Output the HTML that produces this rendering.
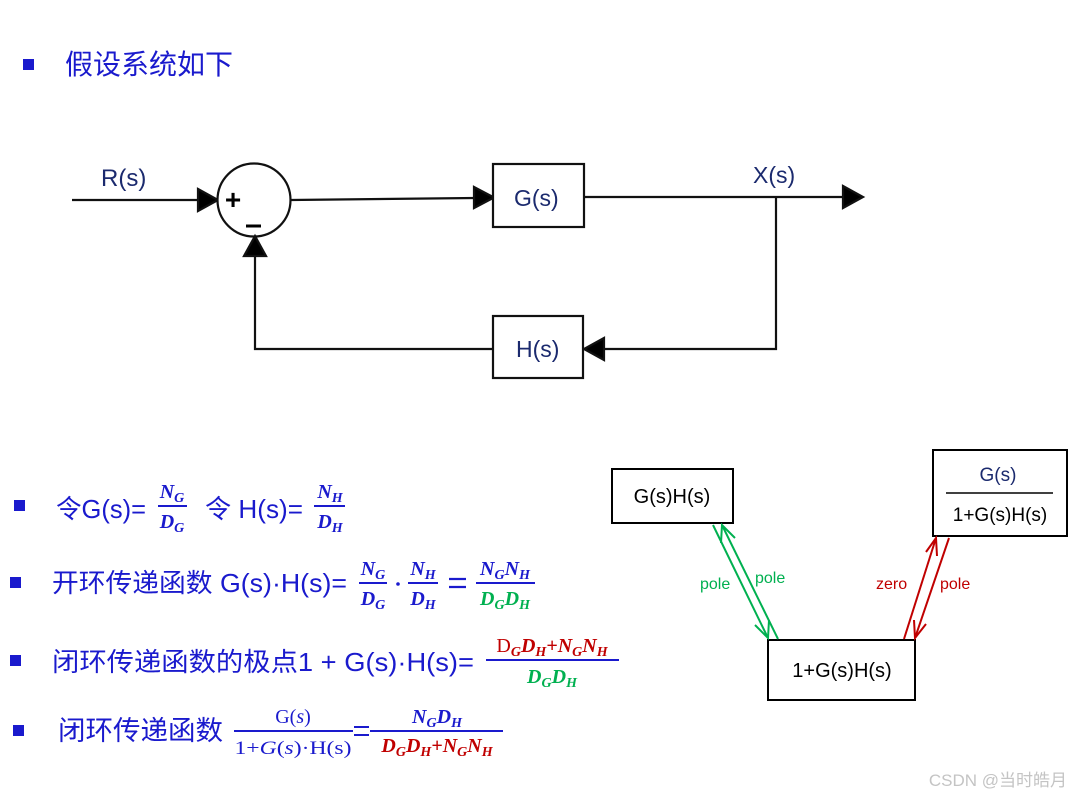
<!DOCTYPE html>
<html><head><meta charset="utf-8"><style>
html,body{margin:0;padding:0;background:#fff;width:1071px;height:797px;overflow:hidden}
svg{display:block}
.cj{font-family:"Liberation Sans","Noto Sans CJK SC",sans-serif;fill:#1a1acd}
.m{font-family:"Liberation Serif","DejaVu Serif",serif;font-style:italic;font-weight:bold;font-size:20px}
.lab{font-family:"Liberation Sans",sans-serif;fill:#1b2a6e;font-size:22px}
.bk{font-family:"Liberation Sans",sans-serif;fill:#000;font-size:20px}
</style></head><body>
<svg width="1071" height="797" viewBox="0 0 1071 797">
<!-- title -->
<rect x="23" y="59" width="11" height="11" fill="#1a1acd"/>
<text x="65" y="74" class="cj" font-size="28" textLength="168" lengthAdjust="spacingAndGlyphs">假设系统如下</text>

<!-- block diagram -->
<g stroke="#111" stroke-width="2.2" fill="none">
<line x1="72" y1="200" x2="200" y2="200"/>
<path d="M198,189 L218,200 L198,211 z" fill="#000"/>
<circle cx="254" cy="200" r="36.5" fill="#fff"/>
<line x1="291" y1="200" x2="475" y2="198"/>
<path d="M474,187 L494,197.5 L474,208 z" fill="#000"/>
<rect x="493" y="164" width="91" height="63" fill="#fff"/>
<line x1="584" y1="197" x2="845" y2="197"/>
<path d="M843,186 L863,197 L843,208 z" fill="#000"/>
<polyline points="776,197 776,349 600,349"/>
<path d="M604,338 L584,349 L604,360 z" fill="#000"/>
<rect x="493" y="316" width="90" height="62" fill="#fff"/>
<polyline points="493,349 255,349 255,254"/>
<path d="M244,256 L255,236 L266,256 z" fill="#000"/>
</g>
<text x="233" y="209" font-family="Liberation Sans" font-size="28" font-weight="bold" fill="#000" text-anchor="middle">+</text>
<line x1="246" y1="226" x2="261" y2="226" stroke="#000" stroke-width="3"/>
<text x="101" y="186" class="lab" style="font-size:24px">R(s)</text>
<text x="514" y="206" class="lab" style="font-size:23px">G(s)</text>
<text x="753" y="183" class="lab" style="font-size:23px">X(s)</text>
<text x="516" y="357" class="lab" style="font-size:23px">H(s)</text>

<!-- line 1 -->
<rect x="14" y="500" width="11" height="11" fill="#1a1acd"/>
<text x="56" y="518" class="cj" font-size="26" textLength="90" lengthAdjust="spacingAndGlyphs">令G(s)=</text>
<text x="172" y="498" class="m" fill="#1a1acd" text-anchor="middle">N<tspan font-size="14" dy="4">G</tspan></text>
<line x1="158" y1="506" x2="187" y2="506" stroke="#1a1acd" stroke-width="2"/>
<text x="172" y="528" class="m" fill="#1a1acd" text-anchor="middle">D<tspan font-size="14" dy="4">G</tspan></text>
<text x="205" y="518" class="cj" font-size="26" textLength="98" lengthAdjust="spacingAndGlyphs">令 H(s)=</text>
<text x="330" y="498" class="m" fill="#1a1acd" text-anchor="middle">N<tspan font-size="14" dy="4">H</tspan></text>
<line x1="314" y1="506" x2="345" y2="506" stroke="#1a1acd" stroke-width="2"/>
<text x="330" y="528" class="m" fill="#1a1acd" text-anchor="middle">D<tspan font-size="14" dy="4">H</tspan></text>

<!-- line 2 -->
<rect x="10" y="577" width="11" height="11" fill="#1a1acd"/>
<text x="52" y="592" class="cj" font-size="26" textLength="295" lengthAdjust="spacingAndGlyphs">开环传递函数 G(s)·H(s)=</text>
<text x="373" y="575" class="m" fill="#1a1acd" text-anchor="middle">N<tspan font-size="14" dy="4">G</tspan></text>
<line x1="359" y1="583" x2="387" y2="583" stroke="#1a1acd" stroke-width="2"/>
<text x="373" y="605" class="m" fill="#1a1acd" text-anchor="middle">D<tspan font-size="14" dy="4">G</tspan></text>
<circle cx="398" cy="584" r="1.8" fill="#1a1acd"/>
<text x="423" y="575" class="m" fill="#1a1acd" text-anchor="middle">N<tspan font-size="14" dy="4">H</tspan></text>
<line x1="408" y1="583" x2="438" y2="583" stroke="#1a1acd" stroke-width="2"/>
<text x="423" y="605" class="m" fill="#1a1acd" text-anchor="middle">D<tspan font-size="14" dy="4">H</tspan></text>
<line x1="449" y1="579" x2="466" y2="579" stroke="#1a1acd" stroke-width="2.2"/>
<line x1="449" y1="587" x2="466" y2="587" stroke="#1a1acd" stroke-width="2.2"/>
<text x="505" y="575" class="m" fill="#1a1acd" text-anchor="middle">N<tspan font-size="14" dy="4">G</tspan><tspan dy="-4">N</tspan><tspan font-size="14" dy="4">H</tspan></text>
<line x1="476" y1="583" x2="535" y2="583" stroke="#1a1acd" stroke-width="2"/>
<text x="505" y="605" class="m" fill="#00b050" text-anchor="middle">D<tspan font-size="14" dy="4">G</tspan><tspan dy="-4">D</tspan><tspan font-size="14" dy="4">H</tspan></text>

<!-- line 3 -->
<rect x="10" y="655" width="11" height="11" fill="#1a1acd"/>
<text x="52" y="671" class="cj" font-size="26" textLength="422" lengthAdjust="spacingAndGlyphs">闭环传递函数的极点1 + G(s)·H(s)=</text>
<text x="552" y="652" class="m" fill="#c00000" text-anchor="middle"><tspan font-style="normal" font-weight="normal">D</tspan><tspan font-size="14" dy="4">G</tspan><tspan dy="-4">D</tspan><tspan font-size="14" dy="4">H</tspan><tspan dy="-4">+N</tspan><tspan font-size="14" dy="4">G</tspan><tspan dy="-4">N</tspan><tspan font-size="14" dy="4">H</tspan></text>
<line x1="486" y1="660" x2="619" y2="660" stroke="#1a1acd" stroke-width="2"/>
<text x="552" y="683" class="m" fill="#00b050" text-anchor="middle">D<tspan font-size="14" dy="4">G</tspan><tspan dy="-4">D</tspan><tspan font-size="14" dy="4">H</tspan></text>

<!-- line 4 -->
<rect x="13" y="725" width="11" height="11" fill="#1a1acd"/>
<text x="58" y="740" class="cj" font-size="27" textLength="165" lengthAdjust="spacingAndGlyphs">闭环传递函数</text>
<text x="293" y="723" font-family="Liberation Serif,serif" font-size="20" fill="#1a1acd" text-anchor="middle">G(<tspan font-style="italic">s</tspan>)</text>
<line x1="234" y1="731" x2="353" y2="731" stroke="#1a1acd" stroke-width="2"/>
<text x="293" y="754" font-family="Liberation Serif,serif" font-size="19" fill="#1a1acd" text-anchor="middle" textLength="117" lengthAdjust="spacingAndGlyphs">1+<tspan font-style="italic">G</tspan>(<tspan font-style="italic">s</tspan>)·H(s)</text>
<line x1="354" y1="727" x2="369" y2="727" stroke="#1a1acd" stroke-width="2"/>
<line x1="354" y1="735" x2="369" y2="735" stroke="#1a1acd" stroke-width="2"/>
<text x="437" y="723" class="m" fill="#1a1acd" text-anchor="middle">N<tspan font-size="14" dy="4">G</tspan><tspan dy="-4">D</tspan><tspan font-size="14" dy="4">H</tspan></text>
<line x1="370" y1="731" x2="503" y2="731" stroke="#1a1acd" stroke-width="2"/>
<text x="437" y="752" class="m" fill="#c00000" text-anchor="middle">D<tspan font-size="14" dy="4">G</tspan><tspan dy="-4">D</tspan><tspan font-size="14" dy="4">H</tspan><tspan dy="-4">+N</tspan><tspan font-size="14" dy="4">G</tspan><tspan dy="-4">N</tspan><tspan font-size="14" dy="4">H</tspan></text>

<!-- right diagram -->
<g stroke="#000" stroke-width="2" fill="#fff">
<rect x="612" y="469" width="121" height="54"/>
<rect x="768" y="640" width="147" height="60"/>
<rect x="933" y="450" width="134" height="86"/>
</g>
<line x1="946" y1="493" x2="1053" y2="493" stroke="#000" stroke-width="1.5"/>
<text x="672" y="503" class="bk" text-anchor="middle">G(s)H(s)</text>
<text x="842" y="677" class="bk" text-anchor="middle">1+G(s)H(s)</text>
<text x="998" y="481" class="lab" style="font-size:19px" text-anchor="middle">G(s)</text>
<text x="1000" y="521" class="bk" style="font-size:19px" text-anchor="middle">1+G(s)H(s)</text>

<g stroke="#00b050" stroke-width="2" fill="none">
<line x1="713" y1="525" x2="768" y2="638"/>
<polyline points="755,625 768,638 769,620"/>
<line x1="778" y1="639" x2="722" y2="525"/>
<polyline points="721,543 722,525 735,538"/>
</g>
<text x="700" y="589" font-family="Liberation Sans" font-size="16" fill="#00b050">pole</text>
<text x="755" y="583" font-family="Liberation Sans" font-size="16" fill="#00b050">pole</text>

<g stroke="#c00000" stroke-width="2" fill="none">
<line x1="904" y1="639" x2="936" y2="538"/>
<polyline points="926,552 936,538 937,556"/>
<line x1="949" y1="538" x2="915" y2="638"/>
<polyline points="914,620 915,638 926,624"/>
</g>
<text x="876" y="589" font-family="Liberation Sans" font-size="16" fill="#c00000">zero</text>
<text x="940" y="589" font-family="Liberation Sans" font-size="16" fill="#c00000">pole</text>

<text x="1067" y="786" font-family="Liberation Sans,'Noto Sans CJK SC',sans-serif" font-size="17" fill="#c4c4c4" text-anchor="end">CSDN @当时皓月</text>
</svg>
</body></html>
